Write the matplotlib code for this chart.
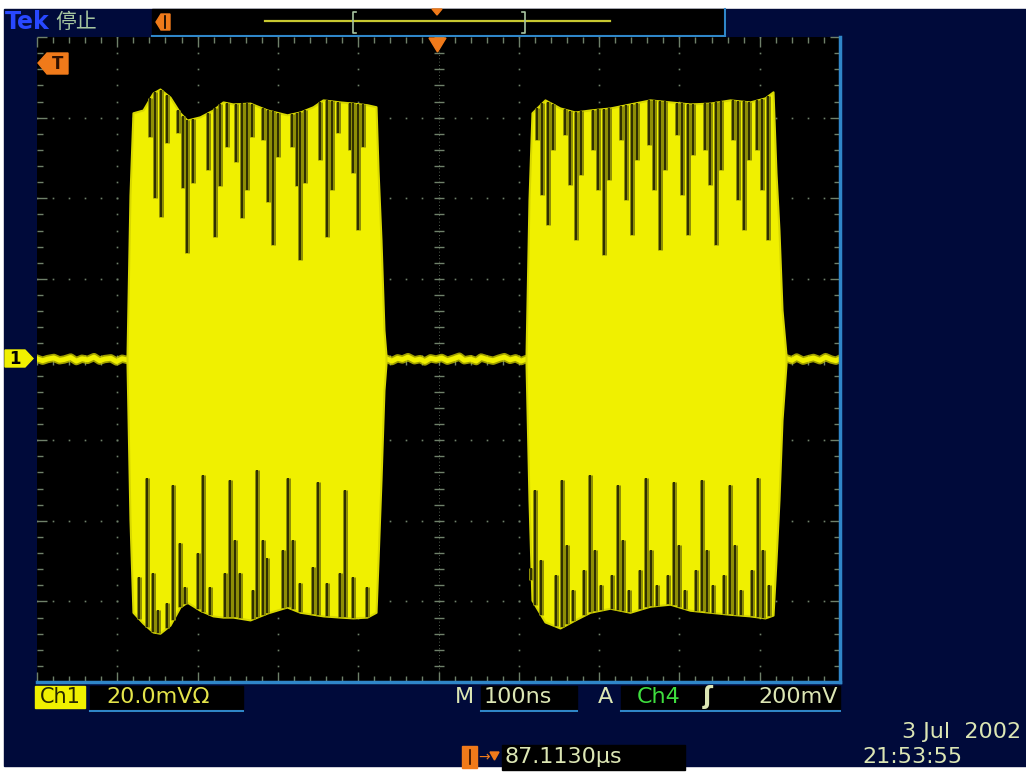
import numpy as np
import matplotlib.pyplot as plt
from matplotlib.patches import Rectangle, Polygon

plt.rcParams['font.family'] = ['DejaVu Sans', 'Noto Sans CJK SC']

# time in ns (100 ns/div), amplitude in mV (20 mV/div)
burst1_t = [-387.9, -384.2, -380.5, -368.0, -355.6, -346.9, -334.4, -322.0, -313.2,
            -297.1, -280.9, -268.4, -256.0, -234.7, -213.5, -188.7, -172.5, -156.3,
            -143.8, -122.7, -106.5, -89.0, -77.8, -75.3, -71.6, -67.9, -65.4]
burst1_top = [1.1, 40.8, 61.2, 61.9, 66.1, 67.1, 65.1, 61.2, 59.4, 60.2, 61.9, 63.9,
              63.4, 63.6, 61.9, 60.7, 61.4, 62.7, 64.4, 63.9, 63.6, 63.2, 62.7, 47.0,
              29.6, 7.3, 1.1]
burst1_bot = [-1.1, -39.8, -62.7, -65.4, -67.6, -67.9, -65.9, -61.4, -60.2, -62.2,
              -63.6, -63.9, -63.9, -64.6, -62.9, -61.4, -62.7, -63.2, -63.6, -63.9,
              -64.1, -63.9, -62.7, -49.8, -29.9, -7.6, -1.1]

burst2_t = [109.0, 112.7, 116.4, 132.6, 151.3, 170.0, 188.7, 213.6, 238.5, 263.4,
            288.3, 313.2, 338.1, 363.0, 387.9, 406.6, 416.6, 420.3, 424.0, 427.8, 432.8]
burst2_top = [1.1, 39.6, 61.2, 64.4, 62.4, 61.4, 61.9, 62.4, 63.4, 64.4, 63.9, 63.4,
              63.6, 64.4, 63.9, 64.9, 66.4, 46.3, 32.1, 12.3, 1.1]
burst2_bot = [-1.1, -34.9, -59.7, -65.1, -66.6, -64.6, -62.7, -61.7, -62.7, -61.2,
              -60.7, -62.2, -62.7, -63.2, -63.6, -64.1, -63.4, -49.8, -34.9, -15.0, -1.1]

# dips seen in the upper envelope (time, lowest level reached)
notch1_top_t = [-359.3, -353.0, -345.6, -338.1, -324.4, -318.2, -313.2, -305.7, -287.0,
                -278.3, -272.1, -263.4, -252.2, -244.7, -238.5, -232.2, -218.5, -212.3,
                -206.1, -199.9, -182.4, -176.2, -172.5, -166.2, -147.6, -138.9, -132.6,
                -125.2, -110.2, -106.5, -100.2, -94.0]
notch1_top_v = [55.2, 40.0, 35.4, 53.7, 56.2, 42.6, 26.4, 43.8, 47.0, 30.4, 43.1, 52.7,
                49.0, 35.1, 42.1, 55.2, 54.5, 39.1, 28.4, 50.2, 52.7, 43.1, 24.7, 43.8,
                49.5, 30.4, 42.1, 56.2, 52.0, 46.3, 32.1, 52.7]
notch1_bot_t = [-373.0, -363.0, -355.5, -349.3, -338.1, -330.6, -321.9, -315.7, -299.5,
                -293.3, -284.6, -265.9, -259.6, -253.4, -247.2, -231.0, -226.0, -218.5,
                -213.6, -193.6, -187.4, -181.2, -172.5, -156.3, -150.1, -138.9, -122.7,
                -116.4, -106.5, -89.0]
notch1_bot_v = [-54.0, -29.4, -53.0, -62.2, -60.4, -31.1, -45.5, -56.4, -48.0, -28.7,
                -56.4, -53.0, -29.9, -44.8, -53.0, -57.2, -27.4, -44.8, -49.3, -47.3,
                -29.4, -44.8, -55.5, -51.5, -30.4, -55.5, -53.0, -32.3, -54.0, -56.4]

notch2_top_t = [122.7, 128.9, 136.4, 142.6, 157.5, 163.8, 171.2, 177.5, 192.4, 198.6,
                206.1, 212.3, 227.3, 233.5, 241.0, 247.2, 262.1, 268.4, 275.8, 282.1,
                297.0, 303.2, 310.7, 316.9, 331.9, 338.1, 345.6, 351.8, 366.7, 373.0,
                380.4, 386.7, 396.6, 402.9, 410.3]
notch2_top_v = [54.5, 40.8, 33.4, 52.0, 55.7, 43.3, 29.7, 45.8, 52.0, 42.1, 25.9, 44.5,
                54.5, 39.6, 30.9, 49.5, 53.2, 42.1, 27.2, 47.0, 55.7, 40.8, 30.9, 50.7,
                52.0, 43.3, 28.4, 47.0, 54.5, 39.6, 32.1, 49.5, 52.0, 42.1, 29.7]
notch2_bot_t = [115.2, 120.2, 127.6, 146.3, 153.8, 160.0, 167.5, 181.2, 188.7, 194.9,
                202.4, 216.1, 223.5, 229.8, 237.2, 250.9, 258.4, 264.6, 272.1, 285.8,
                293.3, 299.5, 307.0, 320.7, 328.1, 334.4, 341.8, 355.5, 363.0, 369.2,
                376.7, 390.4, 397.9, 404.1, 411.6]
notch2_bot_v = [-54.7, -32.4, -49.8, -53.5, -29.9, -46.0, -57.2, -52.2, -28.7, -47.3,
                -55.9, -53.5, -31.1, -44.8, -57.2, -52.2, -29.4, -47.3, -55.9, -53.5,
                -30.4, -46.0, -57.2, -52.2, -29.9, -47.3, -55.9, -53.5, -31.1, -46.0,
                -57.2, -52.2, -29.4, -47.3, -55.9]

# baseline between bursts
base_t = [-500, -493, -487, -479, -472, -466, -458, -451, -444, -437, -429, -422, -416,
          -408, -401, -394, -388, -65, -58, -51, -45, -38, -30, -23, -17, -10, -3, 4,
          11, 19, 26, 32, 40, 47, 53, 61, 68, 75, 82, 89, 96, 103, 109, 433, 440, 446,
          454, 461, 467, 475, 482, 489, 495, 500]
base_v = [0.2, -0.3, 0.1, 0.4, -0.2, 0.0, 0.5, -0.4, 0.2, -0.1, 0.6, -0.3, 0.1, 0.3,
          -0.5, 0.2, -0.1, 0.2, -0.4, 0.3, 0.0, 0.6, -0.2, 0.1, -0.5, 0.3, 0.0, 0.4,
          -0.3, 0.2, 0.7, -0.2, 0.1, -0.4, 0.5, 0.0, -0.3, 0.2, 0.6, -0.1, 0.3, -0.4,
          0.1, 0.3, -0.2, 0.5, -0.3, 0.1, 0.4, -0.2, 0.6, 0.0, -0.3, 0.2]

NAVY = '#000a3a'
YEL = '#f0f000'
GRID = '#6f806a'
PALE = '#dce6b4'
ORANGE = '#f07a1a'
BLUE = '#2f86c8'

fig = plt.figure(figsize=(10.26, 7.73), dpi=100, facecolor='white')

# background layer in pixel coordinates
bg = fig.add_axes([0, 0, 1, 1], zorder=0)
bg.set_xlim(0, 1026)
bg.set_ylim(773, 0)
bg.axis('off')
bg.add_patch(Rectangle((4, 9), 1022, 757, color=NAVY))
bg.add_patch(Rectangle((152, 9), 573, 27, color='black'))
bg.plot([152, 725], [36, 36], color=BLUE, lw=1.5)
bg.plot([725, 725], [9, 36], color=BLUE, lw=1.5)

# scope screen
ax = fig.add_axes([37 / 1026, 91 / 773, 803 / 1026, 645 / 773], zorder=1)
ax.set_facecolor('black')
ax.set_xlim(-500, 500)
ax.set_ylim(-80, 80)

minor_x = np.arange(-500, 501, 20)
minor_y = np.arange(-80, 81, 4)
for xv in range(-400, 401, 100):
    if xv != 0:
        ax.plot([xv] * len(minor_y), minor_y, ls='none', marker='s', ms=1.2,
                color=GRID, mew=0, zorder=1)
for yv in range(-60, 61, 20):
    if yv != 0:
        ax.plot(minor_x, [yv] * len(minor_x), ls='none', marker='s', ms=1.2,
                color=GRID, mew=0, zorder=1)
ax.plot([0] * len(minor_y), minor_y, ls='none', marker='_', ms=7, color=GRID, mew=1, zorder=1)
ax.plot(minor_x, [0] * len(minor_x), ls='none', marker='|', ms=7, color=GRID, mew=1, zorder=1)
ax.axvline(0, color=GRID, lw=0.6, ls=(0, (1, 3)), zorder=1)

ax.set_xticks(np.arange(-500, 501, 100))
ax.set_yticks(np.arange(-80, 81, 20))
ax.set_xticks(minor_x, minor=True)
ax.set_yticks(minor_y, minor=True)
ax.tick_params(which='both', direction='in', color=GRID, top=True, right=True,
               labelbottom=False, labelleft=False)
ax.tick_params(which='major', length=7, width=1)
ax.tick_params(which='minor', length=4, width=1)
for s in ['top', 'left']:
    ax.spines[s].set_visible(False)
for s in ['bottom', 'right']:
    ax.spines[s].set_color(BLUE)
    ax.spines[s].set_linewidth(2.5)

ax.plot(base_t, base_v, color='#c8c800', lw=6, solid_joinstyle='round', alpha=0.8, zorder=2)
ax.plot(base_t, base_v, color=YEL, lw=3.5, solid_joinstyle='round', zorder=2)

for bt, btop, bbot, ntt, ntv, nbt, nbv in [
        (burst1_t, burst1_top, burst1_bot, notch1_top_t, notch1_top_v, notch1_bot_t, notch1_bot_v),
        (burst2_t, burst2_top, burst2_bot, notch2_top_t, notch2_top_v, notch2_bot_t, notch2_bot_v)]:
    ax.fill_between(bt, bbot, btop, color=YEL, lw=1.5, edgecolor='#d8d800', zorder=3)
    up = np.interp(ntt, bt, btop)
    ax.vlines(ntt, ntv, up, color='#8e8e06', lw=3.6, zorder=4)
    ax.vlines(ntt, ntv, up, color='#2e2e00', lw=1.4, zorder=4)
    dn = np.interp(nbt, bt, bbot)
    ax.vlines(nbt, dn, nbv, color='#8e8e06', lw=3.6, zorder=4)
    ax.vlines(nbt, dn, nbv, color='#2e2e00', lw=1.4, zorder=4)

# foreground: markers and readouts
fg = fig.add_axes([0, 0, 1, 1], zorder=2)
fg.set_xlim(0, 1026)
fg.set_ylim(773, 0)
fg.axis('off')
fg.patch.set_alpha(0)

fg.text(5, 22, 'Tek', color='#2848ff', fontsize=17, fontweight='bold', va='center')
fg.text(55, 22, '停止', color='#a6c6a0', fontsize=15, va='center',
        family=['Noto Sans CJK SC'])
fg.add_patch(Polygon([(156, 22), (161, 14), (170, 14), (170, 30), (161, 30)], color=ORANGE))
fg.plot([165, 165], [16, 28], color='black', lw=1.2)
fg.plot([265, 610], [21, 21], color='#c8c830', lw=1.6)
for bx, d in [(353, 1), (525, -1)]:
    fg.plot([bx + 3 * d, bx, bx, bx + 3 * d], [12, 12, 33, 33], color='#a8c4a0', lw=1.2)
fg.add_patch(Polygon([(432, 9), (442, 9), (437, 15)], color=ORANGE))
fg.add_patch(Polygon([(429, 38), (446, 38), (437.5, 52)], color=ORANGE))
fg.add_patch(Polygon([(38, 63), (47, 53), (68, 53), (68, 74), (47, 74)], color=ORANGE))
fg.text(58, 64, 'T', color='#301000', fontsize=12, fontweight='bold', ha='center', va='center')
fg.add_patch(Polygon([(5, 350), (25, 350), (33, 358.5), (25, 367), (5, 367)], color=YEL))
fg.text(15, 359, '1', color='black', fontsize=12, fontweight='bold', ha='center', va='center')

fg.add_patch(Rectangle((35, 686), 50, 22, color=YEL))
fg.text(60, 697, 'Ch1', color='#262600', fontsize=15, ha='center', va='center')
fg.add_patch(Rectangle((90, 686), 153, 25, color='black'))
fg.plot([90, 243], [711, 711], color=BLUE, lw=1.5)
fg.text(106, 697, '20.0mVΩ', color='#e4e44a', fontsize=16, va='center')
fg.text(455, 697, 'M', color=PALE, fontsize=16, va='center')
fg.add_patch(Rectangle((481, 686), 96, 25, color='black'))
fg.plot([481, 577], [711, 711], color=BLUE, lw=1.5)
fg.text(484, 697, '100ns', color=PALE, fontsize=16, va='center')
fg.text(598, 697, 'A', color=PALE, fontsize=16, va='center')
fg.add_patch(Rectangle((621, 686), 219, 25, color='black'))
fg.plot([621, 840], [711, 711], color=BLUE, lw=1.5)
fg.text(637, 697, 'Ch4', color='#3ede3e', fontsize=16, va='center')
fg.text(703, 697, 'ʃ', color=PALE, fontsize=17, va='center', fontweight='bold')
fg.text(838, 697, '200mV', color=PALE, fontsize=16, va='center', ha='right')

fg.text(1021, 732, '3 Jul  2002', color=PALE, fontsize=16, va='center', ha='right')
fg.text(862, 757, '21:53:55', color=PALE, fontsize=16, va='center')
fg.add_patch(Rectangle((462, 746), 15, 22, color=ORANGE))
fg.plot([469.5, 469.5], [750, 764], color='#301000', lw=1.2)
fg.text(478, 757, '→', color=ORANGE, fontsize=10, va='center')
fg.add_patch(Polygon([(490, 752), (499, 752), (494.5, 760)], color=ORANGE))
fg.add_patch(Rectangle((502, 745), 183, 25, color='black'))
fg.text(505, 757, '87.1130µs', color=PALE, fontsize=16, va='center')

fig.savefig('out.png', dpi=100, facecolor='white')
